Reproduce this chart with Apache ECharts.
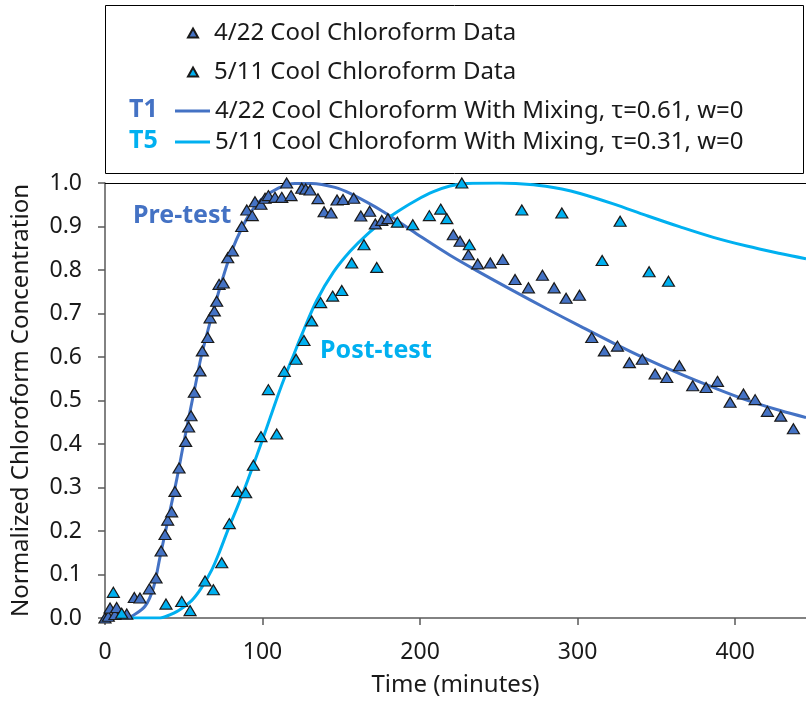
<!DOCTYPE html>
<html><head><meta charset="utf-8">
<script src="https://cdn.jsdelivr.net/npm/echarts@6/dist/echarts.min.js"></script>
<style>html,body{margin:0;padding:0;background:#fff}#c{width:806px;height:702px}</style>
</head><body><div id="c"></div>
<script>
// ---- data ----
const timeTicks = [0, 100, 200, 300, 400];
const concTicks = ['0.0','0.1','0.2','0.3','0.4','0.5','0.6','0.7','0.8','0.9','1.0'];
const seriesNames = [
  '4/22 Cool Chloroform Data',
  '5/11 Cool Chloroform Data',
  '4/22 Cool Chloroform With Mixing, \u03c4=0.61, w=0',
  '5/11 Cool Chloroform With Mixing, \u03c4=0.31, w=0'
];
const data0422 = [
  [0,0.0],[2.1,0.004],[3.2,0.023],[6.3,0.008],[7.4,0.024],[13.8,0.009],[18.6,0.047],[22.2,0.046],
  [28.1,0.067],[32.4,0.092],[35.6,0.154],[38.1,0.192],[39.8,0.225],[42.3,0.244],[44.4,0.291],[47.0,0.345],
  [51.2,0.406],[53.1,0.439],[54.6,0.465],[56.7,0.519],[60.3,0.568],[61.8,0.614],[65.2,0.645],[66.7,0.690],
  [69.4,0.706],[70.9,0.728],[72.4,0.767],[75.1,0.770],[77.9,0.828],[80.9,0.844],[86.8,0.900],[90.0,0.938],
  [93.5,0.925],[95.2,0.957],[99.0,0.951],[101.6,0.965],[103.7,0.971],[107.9,0.967],[112.2,0.967],[115.3,1.0],
  [118.1,0.971],[124.9,0.988],[127.4,0.986],[130.2,0.984],[135.2,0.964],[139.1,0.934],[143.5,0.931],[147.3,0.961],
  [151.1,0.962],[157.9,0.965],[162.4,0.924],[168.0,0.935],[171.6,0.906],[175.7,0.914],[179.6,0.918],
  [221.1,0.881],[225.4,0.866],[230.7,0.835],[236.6,0.814],[244.6,0.816],[252.5,0.824],[260.3,0.778],
  [268.8,0.759],[277.7,0.788],[285.1,0.759],[292.7,0.735],[301.2,0.742],[309.0,0.645],[317.0,0.614],
  [325.3,0.625],[332.9,0.587],[341.1,0.595],[349.2,0.561],[356.6,0.553],[364.6,0.580],[373.1,0.534],
  [381.6,0.530],[388.8,0.544],[396.8,0.496],[405.3,0.515],[412.7,0.502],[420.5,0.475],[429.0,0.464],[437.0,0.435]
];
const data0511 = [
  [5.3,0.059],[10.6,0.011],[38.7,0.032],[48.7,0.038],[54.0,0.017],[63.5,0.085],[68.8,0.065],[74.1,0.127],
  [78.9,0.217],[84.2,0.291],[89.3,0.288],[94.2,0.351],[99.0,0.417],[103.7,0.525],[109.0,0.423],[113.8,0.567],
  [121.3,0.595],[126.3,0.638],[131.2,0.683],[136.9,0.725],[144.5,0.740],[150.3,0.753],[156.6,0.816],
  [164.4,0.858],[172.5,0.806],[185.6,0.910],[195.4,0.904],[205.9,0.925],[213.1,0.940],[217.0,0.918],
  [226.5,1.0],[231.3,0.858],[264.6,0.938],[290.0,0.931],[315.6,0.822],[327.0,0.912],[345.4,0.796],[357.7,0.774]
];
const curveT1 = [
  [0,0],[15,0],[17,0.004],[25.4,0.027],[30.7,0.069],[34.9,0.14],[40.2,0.229],[45.5,0.318],[49.7,0.397],
  [54,0.475],[58.2,0.55],[61,0.6],[65.6,0.665],[69.8,0.72],[75.1,0.785],[80.4,0.843],[86.8,0.896],[93.1,0.936],
  [99.5,0.963],[110,0.988],[120.6,0.999],[131.2,0.999],[146,0.99],[155.6,0.976],[176.7,0.934],[197.9,0.883],
  [219,0.834],[240.2,0.79],[259.3,0.752],[280.4,0.711],[301.6,0.671],[322.7,0.632],[343.9,0.595],
  [365.1,0.561],[386.2,0.530],[407.4,0.501],[428.6,0.477],[445,0.461]
];
const curveT5 = [
  [0,0],[35,0],[39,0.004],[47,0.018],[55,0.04],[61,0.068],[67.7,0.11],[73,0.155],[78.3,0.205],[84,0.255],
  [88.9,0.3],[94,0.35],[99.5,0.405],[105,0.462],[110,0.514],[115,0.562],[120,0.607],[125,0.652],[134.4,0.73],
  [145,0.795],[155.6,0.843],[166.1,0.881],[176.7,0.912],[187.3,0.938],[197.9,0.961],[208.5,0.98],[219,0.993],
  [229.6,0.999],[250,1.0],[272,0.996],[290,0.986],[301.6,0.976],[322.7,0.952],[343.9,0.925],[365.1,0.899],
  [386.2,0.875],[407.4,0.855],[428.6,0.838],[445,0.826]
];
const xMax = 445;

// ---- chart ----
const DARK = '#4472C4', LIGHT = '#00B0F0', TXT = '#1a1a1a', FONT = '"Noto Sans", sans-serif';
const chart = echarts.init(document.getElementById('c'), null, {renderer: 'canvas'});
const axisBase = {
  min: 0, axisLine: {show: true, lineStyle: {color: '#595959', width: 1.5}},
  axisTick: {show: true, inside: false, length: 7, lineStyle: {color: '#595959', width: 1.5}},
  splitLine: {show: false}
};
chart.setOption({
  animation: false,
  backgroundColor: '#fff',
  textStyle: {fontFamily: FONT},
  grid: {left: 105, right: 0, top: 183, bottom: 82, containLabel: false},
  xAxis: [
    Object.assign({}, axisBase, {
      type: 'value', max: xMax, interval: 100,
      name: 'Time (minutes)', nameLocation: 'middle', nameGap: 55,
      nameTextStyle: {fontSize: 24, color: TXT, fontFamily: FONT},
      axisLabel: {margin: 23, fontSize: 23, color: TXT, fontFamily: FONT, showMaxLabel: false,
        formatter: v => timeTicks.includes(v) ? String(v) : ''}
    }),
    {type: 'value', position: 'top', min: 0, max: xMax, interval: 100,
     axisLine: {show: true, onZero: false, lineStyle: {color: '#000', width: 1}},
     axisTick: {show: false}, axisLabel: {show: false}, splitLine: {show: false}}
  ],
  yAxis: Object.assign({}, axisBase, {
    type: 'value', max: 1, interval: 0.1,
    name: 'Normalized Chloroform Concentration', nameLocation: 'middle', nameGap: 72,
    nameTextStyle: {fontSize: 24, color: TXT, fontFamily: FONT},
    axisLabel: {margin: 23, fontSize: 23, color: TXT, fontFamily: FONT,
      formatter: v => concTicks[Math.round(v * 10)]}
  }),
  legend: [
    {data: [seriesNames[0], seriesNames[1]], orient: 'vertical', left: 187, top: 21, padding: 0,
     itemWidth: 10, itemHeight: 9, itemGap: 15,
     textStyle: {fontSize: 24, lineHeight: 20, color: TXT, fontFamily: FONT, padding: [0, 0, 0, 11]}},
    {data: [{name: seriesNames[2], icon: 'rect'}, {name: seriesNames[3], icon: 'rect'}],
     orient: 'vertical', left: 175, top: 99, padding: 0,
     itemWidth: 35, itemHeight: 3, itemGap: 7,
     textStyle: {fontSize: 24, lineHeight: 20, color: TXT, fontFamily: FONT}}
  ],
  graphic: [
    {type: 'rect', z: 0, shape: {x: 105.5, y: 5.5, width: 698, height: 168},
     style: {fill: 'none', stroke: '#000', lineWidth: 1}},
    {type: 'text', left: 129, top: 97, style: {text: 'T1', fill: DARK, font: 'bold 25px "Noto Sans"'}},
    {type: 'text', left: 129, top: 128, style: {text: 'T5', fill: LIGHT, font: 'bold 25px "Noto Sans"'}},
    {type: 'text', left: 133, top: 203, style: {text: 'Pre-test', fill: DARK, font: 'bold 25px "Noto Sans"'}},
    {type: 'text', left: 320, top: 338, style: {text: 'Post-test', fill: LIGHT, font: 'bold 25px "Noto Sans"'}}
  ],
  series: [
    {name: seriesNames[2], type: 'line', data: curveT1, symbol: 'none', smooth: 0.35, z: 2,
     lineStyle: {color: DARK, width: 3}, itemStyle: {color: DARK}},
    {name: seriesNames[3], type: 'line', data: curveT5, symbol: 'none', smooth: 0.35, z: 2,
     lineStyle: {color: LIGHT, width: 3}, itemStyle: {color: LIGHT}},
    {name: seriesNames[0], type: 'scatter', data: data0422, symbol: 'triangle', symbolSize: [12, 10], z: 3,
     itemStyle: {color: DARK, borderColor: '#1a1a1a', borderWidth: 1.2, opacity: 1}},
    {name: seriesNames[1], type: 'scatter', data: data0511, symbol: 'triangle', symbolSize: [12, 10], z: 4,
     itemStyle: {color: LIGHT, borderColor: '#1a1a1a', borderWidth: 1.2, opacity: 1}}
  ]
});
</script></body></html>
